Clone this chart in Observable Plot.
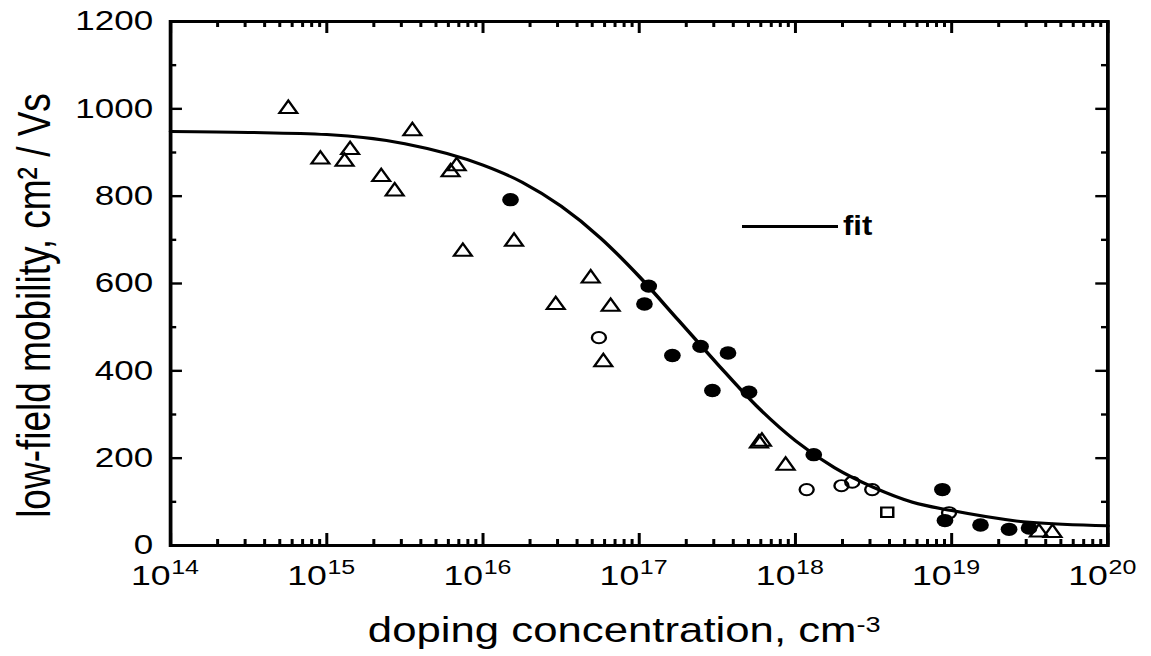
<!DOCTYPE html>
<html><head><meta charset="utf-8">
<script src="https://cdn.jsdelivr.net/npm/d3@7"></script>
<script src="https://cdn.jsdelivr.net/npm/@observablehq/plot@0.6"></script>
<style>
html,body{margin:0;padding:0;background:#fff;}
#wrap{position:relative;width:1151px;height:656px;overflow:hidden;background:#fff;}
#legend{position:absolute;left:742px;top:211px;display:flex;align-items:center;font-family:"Liberation Sans",Arial,Helvetica,sans-serif;}
#legend .ln{width:96px;height:0;border-top:3px solid #000;}
#legend .tx{font-size:27px;font-weight:bold;margin-left:5px;transform:scaleX(1.15);transform-origin:left center;}
</style></head><body>
<div id="wrap"></div>
<script>
// open triangles
const triN  = [5.67e14, 9.1e14, 1.30e15, 1.41e15, 2.23e15, 2.72e15, 3.53e15, 6.2e15, 6.78e15, 7.43e15,
               1.58e16, 2.92e16, 4.89e16, 6.56e16, 5.89e16, 5.84e17, 6.1e17, 8.65e17, 3.62e19, 4.42e19];
const triMu = [1000, 884, 879, 906, 844, 811, 949, 855, 869, 673,
               696, 551, 612, 547, 420, 234, 238, 183, 30, 29];
// filled circles
const fillN  = [1.50e16, 1.15e17, 1.08e17, 1.63e17, 2.47e17, 3.70e17, 2.94e17, 5.04e17,
                1.31e18, 8.72e18, 9.06e18, 1.53e19, 2.33e19, 3.13e19];
const fillMu = [792, 594, 553, 435, 456, 441, 355, 351, 208, 128, 57, 47, 37, 40];
// open circles
const openN  = [5.52e16, 1.18e18, 1.97e18, 2.31e18, 3.10e18, 9.62e18];
const openMu = [476, 128, 137, 145, 128, 75];
// open square
const sqN  = [3.87e18];
const sqMu = [76];
// fit curve
const fitN  = [1e14, 3.16e14, 1e15, 3.16e15, 1e16, 1.78e16, 3.16e16, 5.62e16, 1e17, 1.78e17,
               3.16e17, 5.62e17, 1e18, 1.78e18, 3.16e18, 5.62e18, 1e19, 3.16e19, 1e20];
const fitMu = [948, 946, 941, 920, 871, 832, 777, 705, 616, 516,
               416, 320, 240, 178, 133, 99, 80, 53, 45];
// tick values
const majorX = [1e14, 1e15, 1e16, 1e17, 1e18, 1e19, 1e20];
const majorY = [0, 200, 400, 600, 800, 1000, 1200];
const minorY = [100, 300, 500, 700, 900, 1100];
const xTitle = "doping concentration, cm-3";
const yTitle = "low-field mobility, cm\u00B2 / Vs";
const legendLabel = "fit";

const minorX = d3.range(14, 20).flatMap(e => d3.range(2, 10).map(k => k * Math.pow(10, e)));
const zip = (xs, ys) => xs.map((x, i) => ({x, y: ys[i]}));
const tri = zip(triN, triMu), fil = zip(fillN, fillMu), opn = zip(openN, openMu), sq = zip(sqN, sqMu), fit = zip(fitN, fitMu);

const S = 1.25;
const W = Math.round(1151 / S);
const H = 656;
const mL = 136, mR = 35, mT = 21, mB = 111;
const iW = W - mL - mR, iH = H - mT - mB;
const font = '"Liberation Sans", Arial, Helvetica, sans-serif';
const tk = {stroke: "black", strokeWidth: 2.4};

const chart = Plot.plot({
  width: W, height: H,
  marginLeft: mL, marginRight: mR, marginTop: mT, marginBottom: mB,
  x: {type: "log", domain: [1e14, 1e20], axis: null},
  y: {domain: [0, 1200], axis: null},
  style: {fontFamily: font, background: "white", color: "black"},
  marks: [
    // x ticks bottom & top (inward)
    Plot.ruleX(majorX, {x: d => d, insetTop: iH - 12, ...tk}),
    Plot.ruleX(minorX, {x: d => d, insetTop: iH - 6, ...tk}),
    Plot.ruleX(majorX, {x: d => d, insetBottom: iH - 12, ...tk}),
    Plot.ruleX(minorX, {x: d => d, insetBottom: iH - 6, ...tk}),
    // y ticks left & right (inward)
    Plot.ruleY(majorY, {y: d => d, insetRight: iW - 9.6, ...tk}),
    Plot.ruleY(minorY, {y: d => d, insetRight: iW - 5, ...tk}),
    Plot.ruleY(majorY, {y: d => d, insetLeft: iW - 9.6, ...tk}),
    Plot.ruleY(minorY, {y: d => d, insetLeft: iW - 5, ...tk}),
    Plot.frame({stroke: "black", strokeWidth: 3}),
    // x tick labels 10^n
    Plot.text(majorX, {x: d => d, text: () => "10", frameAnchor: "bottom", textAnchor: "end", dy: 39, fontSize: 28.5, fill: "black"}),
    Plot.text(majorX, {x: d => d, text: d => String(Math.round(Math.log10(d))), frameAnchor: "bottom", textAnchor: "start", dx: 0.5, dy: 28, fontSize: 20, fill: "black"}),
    // y tick labels
    Plot.text(majorY, {y: d => d, text: d => String(d), frameAnchor: "left", textAnchor: "end", dx: -14, fontSize: 28, fill: "black"}),
    // axis titles
    Plot.text([xTitle], {text: d => d, frameAnchor: "bottom", textAnchor: "middle", dx: -12, dy: 96, fontSize: 35, fill: "black"}),
    Plot.text([yTitle], {text: d => d, frameAnchor: "left", textAnchor: "middle", rotate: -90, dx: -108, dy: 22, fontSize: 37, fill: "black"}),
    // data
    Plot.line(fit, {x: "x", y: "y", curve: "monotone-x", stroke: "black", strokeWidth: 3}),
    Plot.dot(tri, {x: "x", y: "y", symbol: "triangle", r: 5.3, stroke: "black", strokeWidth: 2, fill: "none"}),
    Plot.dot(opn, {x: "x", y: "y", symbol: "circle", r: 5.6, stroke: "black", strokeWidth: 1.9, fill: "none"}),
    Plot.dot(sq, {x: "x", y: "y", symbol: "square", r: 5.4, stroke: "black", strokeWidth: 2, fill: "none"}),
    Plot.dot(fil, {x: "x", y: "y", symbol: "circle", r: 6.7, fill: "black", stroke: "none"})
  ]
});

// superscript for the x title
d3.select(chart).selectAll("text").filter(function() { return this.textContent === xTitle; }).each(function() {
  const t = d3.select(this);
  t.text("doping concentration, cm");
  t.append("tspan").attr("dy", "-0.42em").attr("font-size", "0.62em").text("-3");
});

// stretch horizontally like the scanned original
chart.setAttribute("width", 1151);
chart.setAttribute("height", H);
chart.setAttribute("preserveAspectRatio", "none");
chart.style.maxWidth = "none";
chart.style.width = "1151px";
chart.style.height = H + "px";
chart.style.display = "block";

const wrap = document.getElementById("wrap");
wrap.appendChild(chart);
const lg = document.createElement("div");
lg.id = "legend";
lg.innerHTML = '<div class="ln"></div><div class="tx"></div>';
lg.querySelector(".tx").textContent = legendLabel;
wrap.appendChild(lg);
</script>
</body></html>
